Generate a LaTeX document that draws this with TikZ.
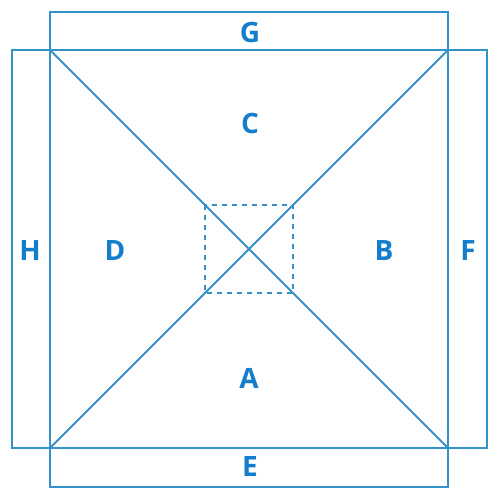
\documentclass[tikz,border=0pt]{standalone}
\usepackage{fontspec}
\setmainfont{Open Sans}
\definecolor{linec}{RGB}{52,146,200}
\definecolor{textc}{RGB}{20,126,204}
\tikzset{
  edge/.style={draw=linec, line width=1.8pt},
  lbl/.style={text=textc, font=\bfseries\fontsize{28}{28}\selectfont, inner sep=0pt, anchor=center},
  dash box/.style={draw=linec, line width=1.6pt, dash pattern=on 5pt off 5pt}
}
\begin{document}
\begin{tikzpicture}[x=1pt,y=-1pt]
\useasboundingbox (0,0) rectangle (500,500);
% main square corners
\coordinate (TL) at (50,50);
\coordinate (TR) at (448,50);
\coordinate (BR) at (448,448);
\coordinate (BL) at (50,448);
% strips
\draw[edge] (50,12) rectangle (448,50);
\draw[edge] (50,448) rectangle (448,487);
\draw[edge] (12,50) rectangle (50,448);
\draw[edge] (448,50) rectangle (487,448);
\draw[edge] (TL) rectangle (BR);
\draw[edge] (TL) -- (BR);
\draw[edge] (TR) -- (BL);
\draw[dash box] (205,205) rectangle (293,293);
% labels
\node[lbl] (G) at (250,32) {G};
\node[lbl] (C) at (250,123) {C};
\node[lbl] (H) at (30,251) {H};
\node[lbl] (D) at (115,251) {D};
\node[lbl] (B) at (384,251) {B};
\node[lbl] (F) at (468,251) {F};
\node[lbl] (A) at (249,378) {A};
\node[lbl] (E) at (250,467) {E};
\end{tikzpicture}
\end{document}
